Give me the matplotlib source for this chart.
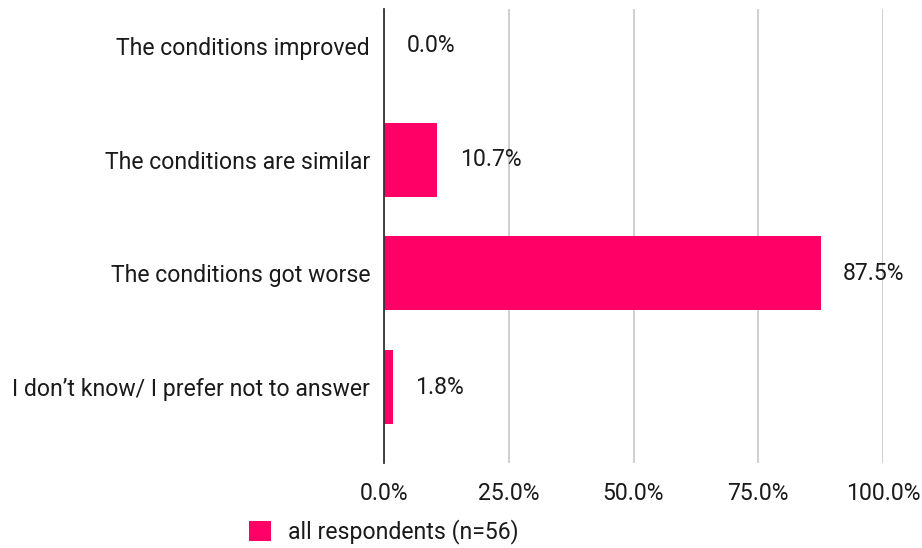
import matplotlib
matplotlib.use('Agg')
import matplotlib.pyplot as plt
from matplotlib.patches import Patch

plt.rcParams['font.family'] = ['Roboto', 'DejaVu Sans']

categories = ['The conditions improved', 'The conditions are similar',
              'The conditions got worse', 'I don\u2019t know/ I prefer not to answer']
values = [0.0, 10.7, 87.5, 1.8]
xticks = [0, 25, 50, 75, 100]
xticklabels = ['0.0%', '25.0%', '50.0%', '75.0%', '100.0%']
series_name = 'all respondents (n=56)'

bar_color = '#ff0066'
text_color = '#1a1a1a'
fs = 16.6

fig = plt.figure(figsize=(9.22, 5.48), dpi=100)
ax = fig.add_axes([384 / 922, 1 - 463 / 548, 499 / 922, 454 / 548])

ypos = list(range(len(categories)))
ax.barh(ypos, values, height=0.65, color=bar_color, zorder=2)

for y, v in zip(ypos, values):
    ax.text(v + 4.5, y, '%.1f%%' % v, va='center', ha='left',
            fontsize=fs, color=text_color, zorder=3)

ax.set_xlim(0, 100)
ax.set_ylim(3.667, -0.325)
ax.set_yticks(ypos)
ax.set_yticklabels(categories, fontsize=fs, color=text_color)
ax.set_xticks(xticks)
ax.set_xticklabels(xticklabels, fontsize=fs, color=text_color)
ax.tick_params(axis='both', length=0)
ax.tick_params(axis='x', pad=14)
ax.tick_params(axis='y', pad=10)

for s in ['top', 'right', 'bottom']:
    ax.spines[s].set_visible(False)
ax.spines['left'].set_color('#333333')
ax.spines['left'].set_linewidth(1.3)
ax.spines['left'].set_zorder(4)
ax.grid(axis='x', color='#cccccc', linewidth=1.3, zorder=1)
ax.set_axisbelow(True)

handle = Patch(facecolor=bar_color, edgecolor='none')
fig.legend([handle], [series_name], loc='center', bbox_to_anchor=(384 / 922, 1 - 532 / 548),
           frameon=False, fontsize=fs, handlelength=0.95, handleheight=0.95,
           handletextpad=0.75, labelcolor=text_color)

plt.savefig('out.png', dpi=100)
